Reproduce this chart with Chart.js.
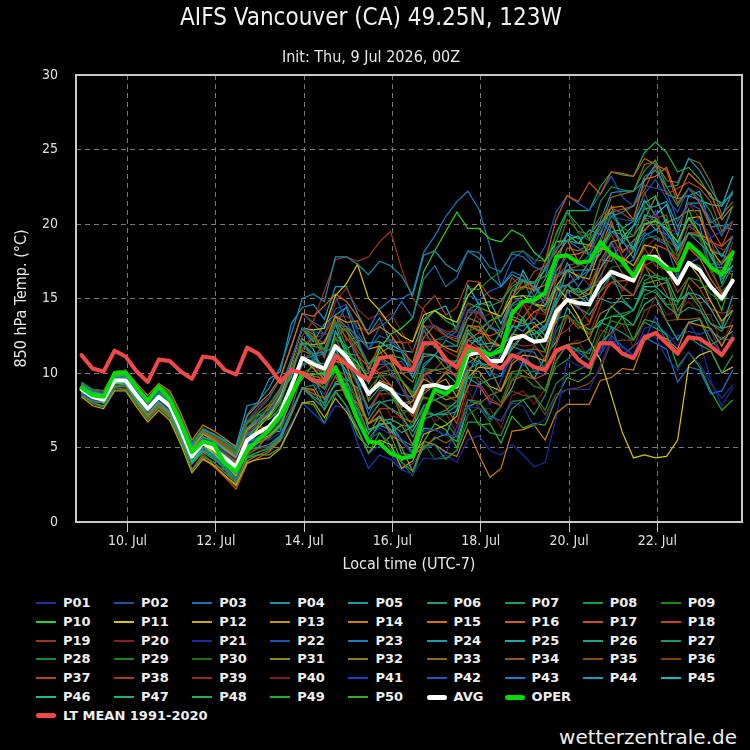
<!DOCTYPE html>
<html>
<head>
<meta charset="utf-8">
<script src="https://cdn.jsdelivr.net/npm/chart.js@4.4.1/dist/chart.umd.min.js"></script>
<style>
  html, body { margin: 0; padding: 0; background: #000; }
  #wrap { position: relative; width: 750px; height: 750px; background: #000; overflow: hidden; }
  #tempChart { position: absolute; left: 0; top: 0; }
  .leg { position: absolute; height: 16px; width: 78px; font: bold 13px "DejaVu Sans", sans-serif; color: #eee; white-space: nowrap; }
  .leg i { position: absolute; left: 0; width: 20px; }
  .leg span { position: absolute; left: 27px; top: 0; line-height: 16px; }
  #credit { position: absolute; right: 13px; top: 725px; font: 20px "DejaVu Sans", sans-serif; color: #eee; }
</style>
</head>
<body>
<div id="wrap">
  <canvas id="tempChart" width="750" height="580"></canvas>
  <div id="legend"></div>
  <div id="credit">wetterzentrale.de</div>
</div>
<script>
// forecast hours after init (9 Jul 2026 00Z)
const HOURS = [6,12,18,24,30,36,42,48,54,60,66,72,78,84,90,96,102,108,114,120,126,132,138,144,150,156,162,168,174,180,186,192,198,204,210,216,222,228,234,240,246,252,258,264,270,276,282,288,294,300,306,312,318,324,330,336,342,348,354,360];
// local midnight (UTC-7) for the labelled days
const TICK_HOURS = [31, 79, 127, 175, 223, 271, 319];
const TICK_LABELS = ["10. Jul", "12. Jul", "14. Jul", "16. Jul", "18. Jul", "20. Jul", "22. Jul"];

// 850 hPa temperature, ensemble members (°C)
const P01 = [9.1,8.5,8.3,9.5,9.4,8.4,7.4,8.2,7.5,6.0,4.4,5.4,5.1,4.7,4.2,5.7,6.0,6.1,6.8,8.3,10.0,9.3,8.6,10.4,8.8,7.3,5.6,6.3,5.9,5.6,4.4,6.1,6.2,5.8,5.8,7.7,7.7,7.0,6.8,8.0,7.8,6.4,6.9,8.4,8.9,8.9,8.9,10.5,12.3,11.3,11.2,12.6,12.4,11.0,10.2,11.4,10.6,9.3,8.3,9.2];
const P02 = [8.6,8.2,8.1,9.5,9.6,8.7,7.9,8.8,8.3,6.6,4.7,5.6,5.1,4.4,3.7,5.8,6.7,7.4,8.6,10.8,13.0,12.8,12.6,14.3,14.6,12.8,11.6,12.5,12.2,11.5,10.2,12.9,13.2,12.7,12.4,14.2,14.1,13.1,12.8,14.5,14.8,14.6,14.9,16.9,17.9,17.2,17.9,19.5,20.5,20.3,20.2,22.0,23.0,21.7,20.8,22.4,21.6,20.3,19.3,20.2];
const P03 = [9.3,8.8,8.6,9.8,9.8,8.8,7.9,8.6,8.0,6.2,4.3,5.0,4.4,3.7,2.9,4.8,5.5,6.0,7.0,9.0,11.0,11.1,11.3,13.3,13.1,12.5,11.6,13.1,13.6,14.8,13.7,16.3,17.2,15.8,16.4,18.2,18.1,17.1,16.8,18.0,17.8,17.1,16.9,18.4,18.9,18.4,17.9,20.1,19.5,18.8,18.2,19.4,19.0,18.6,16.4,17.4,17.7,17.3,17.3,19.2];
const P04 = [8.7,8.3,8.2,9.6,9.7,8.8,8.0,8.9,8.4,6.9,5.2,6.2,5.9,5.4,4.9,7.2,8.1,9.0,10.4,12.6,15.0,15.3,14.8,17.8,17.8,17.3,16.6,17.5,17.2,16.5,15.2,17.9,18.2,17.3,16.8,18.2,17.7,16.5,15.8,16.6,16.2,16.0,14.5,15.8,15.9,16.4,16.9,19.0,20.5,20.8,21.2,23.2,23.6,22.5,22.6,24.4,23.6,22.3,21.2,22.2];
const P05 = [9.0,8.4,8.2,9.4,9.3,8.2,7.3,8.0,7.3,5.7,3.9,4.8,4.4,3.8,3.2,4.8,5.0,5.2,5.8,7.4,9.0,8.4,8.0,9.3,9.2,7.2,5.6,6.5,6.2,5.5,5.1,6.9,7.2,7.2,7.4,9.7,9.2,9.6,9.8,11.8,12.5,12.6,13.2,14.7,16.9,16.9,16.9,18.5,19.5,19.3,18.4,20.6,20.4,19.5,18.2,19.4,18.7,18.0,16.3,17.2];
const P06 = [9.2,8.7,8.4,9.7,9.7,8.6,7.7,8.4,7.8,6.3,4.7,5.7,5.4,5.0,4.5,6.3,6.9,7.3,8.2,10.1,12.0,11.3,11.4,11.8,10.8,9.3,7.6,8.1,7.6,7.2,5.7,7.3,7.2,7.3,7.8,10.2,10.7,10.5,10.8,12.5,13.6,12.6,12.9,14.9,15.9,15.2,14.6,15.5,16.6,15.0,14.2,15.6,15.4,14.5,13.9,14.4,14.2,13.3,12.8,14.2];
const P07 = [8.5,8.0,7.7,9.0,8.9,7.9,6.9,7.7,7.0,5.4,3.5,4.4,4.0,3.3,2.7,4.3,4.7,4.9,5.6,7.3,9.0,8.3,7.6,8.8,7.8,6.3,4.6,6.0,4.9,4.0,3.4,5.1,5.2,4.2,4.8,6.7,6.7,6.0,5.8,7.6,8.2,7.2,8.5,10.8,11.9,11.5,11.3,13.4,13.1,12.7,12.2,13.6,13.4,12.5,11.2,12.4,11.9,11.5,10.0,11.2];
const P08 = [8.9,8.4,8.3,9.6,9.7,8.7,7.8,8.7,8.1,6.5,4.7,5.6,5.1,4.5,3.9,5.8,6.5,7.0,8.0,10.0,12.0,11.8,11.6,13.3,12.8,11.8,10.6,11.1,10.6,9.5,8.7,10.3,10.2,10.3,10.8,13.2,12.9,13.5,13.8,15.6,16.2,16.1,16.5,18.8,20.8,19.9,19.0,21.5,22.5,22.3,22.2,23.6,24.3,22.5,21.2,22.4,21.9,20.8,19.2,21.2];
const P09 = [9.4,8.9,8.8,10.1,10.2,9.2,8.3,9.2,8.6,7.0,5.3,6.2,5.8,5.3,4.7,6.7,7.3,7.9,9.0,10.9,13.0,12.3,11.6,13.5,11.8,10.3,8.6,9.1,8.6,7.5,7.4,8.3,8.2,7.8,7.8,9.7,9.7,9.0,8.0,10.0,9.8,9.1,8.9,10.4,10.9,11.7,10.9,12.5,13.5,13.3,13.2,15.2,15.6,14.6,14.6,16.4,16.2,15.3,14.8,16.2];
const P10 = [8.8,8.3,8.0,9.3,9.3,8.2,7.3,8.0,7.4,5.8,4.0,5.0,4.6,4.0,3.4,5.1,5.5,5.8,6.5,8.2,10.0,9.9,10.0,11.8,11.4,10.7,9.6,11.6,12.6,13.0,13.7,16.8,18.2,19.5,20.8,19.7,19.7,19.0,18.8,19.6,19.2,18.1,17.5,18.8,18.9,19.2,17.9,18.2,19.5,19.6,18.2,20.0,20.2,19.7,18.8,20.4,19.4,17.8,16.5,17.2];
const P11 = [9.2,8.7,8.5,9.8,9.8,8.9,8.0,8.8,8.2,6.4,4.5,5.2,4.6,3.9,3.1,5.3,6.3,7.1,8.4,10.7,13.0,12.9,13.0,15.2,16.0,17.3,15.0,14.2,13.2,12.5,12.1,13.9,14.2,13.7,13.4,15.2,16.0,14.1,13.8,15.1,15.2,14.6,14.5,15.8,15.0,13.8,12.2,10.9,8.5,6.0,4.3,4.5,4.3,4.4,5.5,10.5,11.2,11.5,10.0,10.4];
const P12 = [8.4,7.8,7.6,8.8,8.8,7.7,6.7,7.5,6.8,5.2,3.3,4.2,3.8,3.1,2.5,4.0,4.2,4.3,4.9,6.4,8.0,8.1,7.0,8.3,7.4,6.2,4.6,5.5,5.2,3.6,4.1,5.9,6.2,6.5,7.1,9.7,10.4,10.3,10.8,12.6,12.5,13.1,13.5,15.8,16.9,16.5,16.3,18.4,18.1,17.7,17.2,18.6,18.4,16.8,16.2,17.4,16.4,14.8,13.5,14.2];
const P13 = [9.1,8.6,8.5,9.8,9.9,8.9,8.0,8.9,8.3,6.7,4.9,5.9,5.5,4.9,4.3,6.2,6.7,7.2,8.2,10.0,12.0,11.9,12.0,13.8,13.4,13.5,11.6,11.8,10.9,9.5,8.4,9.6,9.2,9.6,8.4,10.2,10.1,9.1,8.8,10.6,11.2,11.1,10.8,13.8,14.9,15.0,15.3,17.0,18.1,17.4,18.2,20.0,20.2,19.7,18.8,20.4,20.5,18.3,17.3,18.2];
const P14 = [8.9,8.4,8.2,9.4,9.4,8.4,7.4,8.2,7.6,6.1,4.3,5.3,5.0,4.4,3.9,5.7,6.1,6.5,7.4,9.1,11.0,10.3,9.6,10.8,10.6,8.3,6.6,7.0,6.2,5.0,3.4,5.4,5.2,4.7,4.4,6.2,4.5,3.0,3.6,6.1,6.2,6.5,5.5,7.3,7.9,7.9,7.9,9.5,9.7,10.3,10.2,12.2,12.6,12.3,11.6,13.4,13.2,13.0,11.8,13.2];
const P15 = [9.3,8.9,8.8,10.1,10.2,9.3,8.5,9.3,8.8,7.3,5.5,6.5,6.1,5.6,5.0,7.1,7.9,8.6,9.7,11.8,14.0,13.8,14.5,15.3,14.8,13.8,12.6,13.1,12.6,11.5,10.7,13.2,12.2,11.7,11.4,13.2,13.1,12.1,11.8,13.6,13.3,14.1,14.5,16.8,17.9,18.0,18.3,20.0,21.1,21.2,20.3,23.0,23.2,23.8,21.8,23.4,22.7,22.0,20.3,21.2];
const P16 = [8.7,8.3,8.1,9.5,9.6,8.6,7.8,8.6,8.1,6.4,4.4,5.2,4.7,3.9,3.2,4.9,5.3,5.7,6.5,8.2,10.0,9.8,9.6,11.3,10.8,9.8,8.6,9.5,9.2,7.7,8.1,9.9,10.2,10.3,10.8,13.2,12.8,13.5,13.8,15.5,15.8,15.6,15.9,17.9,18.9,17.5,18.6,18.3,20.2,18.1,18.9,19.6,20.3,18.5,17.2,18.4,17.7,16.3,15.3,16.2];
const P17 = [9.0,8.4,8.1,9.3,9.3,8.2,7.2,7.9,7.2,5.5,3.5,4.3,3.7,3.0,2.2,3.9,4.3,4.7,5.5,7.2,9.0,8.6,8.3,9.8,8.4,8.0,6.6,7.6,7.6,7.0,6.7,8.8,9.2,10.1,9.8,12.2,12.7,12.5,12.8,15.1,16.2,15.8,17.5,20.3,21.9,21.5,22.8,22.0,23.5,23.4,23.2,24.4,24.0,23.6,21.4,22.4,21.4,19.8,18.5,19.2];
const P18 = [8.6,8.2,8.0,9.4,9.5,8.5,7.7,8.5,8.0,6.5,4.8,5.9,5.6,5.1,4.6,6.6,7.3,7.9,8.9,10.9,13.0,12.4,12.0,13.3,12.4,11.2,10.4,10.0,9.2,8.0,7.1,8.4,8.2,7.7,6.6,9.2,9.1,8.1,7.8,9.5,9.8,9.6,9.9,11.9,13.8,13.0,13.3,15.0,16.1,16.2,16.2,17.4,18.6,18.3,17.6,19.4,19.4,18.8,18.5,20.2];
const P19 = [9.1,8.6,8.3,9.6,9.5,8.5,7.5,8.3,7.6,6.1,4.4,5.4,5.1,4.6,4.1,6.1,6.8,7.4,8.4,10.4,12.5,13.5,15.5,17.6,17.8,17.5,17.8,18.8,19.5,17.0,15.0,14.2,13.0,12.5,12.3,14.1,14.0,13.1,12.8,14.0,14.7,13.1,12.9,14.4,14.9,14.5,13.4,15.5,16.1,15.7,15.2,17.2,17.6,17.3,16.6,18.4,17.7,17.1,15.3,16.2];
const P20 = [8.5,7.9,7.7,8.9,8.9,7.8,6.8,7.6,6.9,5.3,3.5,4.4,4.0,3.3,2.7,4.7,5.3,5.9,7.0,8.9,11.0,11.3,11.6,13.8,13.8,13.3,12.6,13.3,14.0,12.8,11.4,13.1,13.2,12.8,12.8,14.7,13.6,14.0,13.8,15.0,14.8,14.1,13.9,15.4,15.9,16.7,15.9,17.5,18.5,18.3,18.2,20.2,20.6,19.5,19.6,21.4,20.4,18.8,18.3,18.2];
const P21 = [9.4,8.9,8.7,10.0,10.0,8.9,8.0,8.8,8.2,6.6,4.7,5.6,5.2,4.5,3.9,5.3,5.5,5.5,6.0,7.5,9.0,8.3,7.6,8.8,7.8,6.3,4.6,5.1,4.6,3.5,3.2,4.3,4.2,4.5,4.0,5.5,5.8,4.8,4.5,5.2,4.5,3.7,4.0,7.0,10.9,10.5,10.3,11.5,12.1,11.7,11.2,13.0,13.2,12.7,11.8,13.4,12.2,9.5,7.8,9.0];
const P22 = [8.9,8.5,8.4,9.8,9.9,8.9,8.1,9.0,8.5,7.0,5.2,6.2,5.8,5.3,4.7,6.8,7.7,8.4,9.6,11.8,14.0,13.4,13.0,15.2,13.4,12.2,10.6,11.0,10.2,9.0,8.1,10.3,9.2,8.8,8.8,10.7,10.7,10.0,9.8,11.0,11.6,10.1,9.9,11.4,11.9,11.4,10.9,11.2,12.5,11.8,11.2,12.2,13.8,12.0,12.5,12.8,12.6,12.9,11.2,12.6];
const P23 = [8.7,8.2,8.0,9.3,9.3,8.2,7.3,8.1,7.5,5.9,4.1,5.0,4.6,3.9,3.3,5.2,5.7,6.2,7.2,9.0,11.0,10.8,12.2,13.2,14.5,13.0,12.9,14.3,14.9,15.0,15.4,18.1,19.2,20.5,21.5,22.2,21.0,18.5,15.8,16.8,16.5,15.6,15.2,16.6,16.9,15.8,16.9,17.0,18.8,17.2,17.6,19.2,19.6,19.3,18.6,20.4,19.9,17.0,17.1,16.8];
const P24 = [9.2,8.7,8.5,9.7,9.7,8.7,7.8,8.5,7.9,6.4,4.7,5.7,5.4,4.9,4.4,6.3,6.8,7.3,8.2,10.1,12.0,11.1,10.3,11.3,10.1,8.5,6.6,7.1,6.6,5.5,4.7,6.3,6.2,5.8,7.6,9.0,10.9,9.8,11.3,13.2,12.8,13.7,13.0,15.2,17.4,16.3,17.5,18.0,19.9,18.7,19.8,21.0,21.2,21.5,19.8,21.4,21.4,20.1,20.5,22.2];
const P25 = [8.8,8.3,8.0,9.3,9.2,8.2,7.2,8.0,7.3,5.8,4.0,5.0,4.6,4.1,3.5,5.7,6.5,7.3,8.6,10.7,13.0,12.1,13.3,13.9,14.4,12.2,12.0,12.1,11.6,11.4,9.7,11.3,11.2,10.8,10.8,12.7,11.9,12.0,11.8,13.1,13.2,13.4,12.5,14.3,14.9,14.4,13.9,15.0,14.7,14.8,14.2,15.8,15.8,15.1,14.8,15.4,15.2,14.3,13.0,15.2];
const P26 = [9.1,8.7,8.5,9.9,9.9,9.0,8.1,9.0,8.4,6.8,5.0,5.9,5.4,4.8,4.2,5.8,6.0,6.2,6.8,8.4,10.0,9.8,8.2,9.2,9.3,6.8,6.0,6.6,6.6,6.0,6.4,7.8,8.2,8.5,9.1,11.7,12.4,11.5,12.8,14.6,15.2,15.1,16.3,17.8,18.9,18.7,18.6,20.0,20.8,19.7,20.2,21.4,21.9,19.9,18.4,19.4,19.2,19.0,17.8,19.2];
const P27 = [8.6,8.1,8.0,9.3,9.3,8.3,7.5,8.3,7.7,6.0,4.0,4.8,4.3,3.5,2.8,4.4,4.7,5.0,5.7,7.3,9.0,9.2,7.8,9.4,9.6,7.4,6.9,8.0,8.2,8.0,8.1,10.4,11.2,12.2,11.8,14.2,14.7,14.5,14.8,15.8,16.3,14.6,14.2,15.6,15.9,15.4,15.7,16.0,16.5,15.8,15.2,16.6,16.4,16.2,14.2,15.4,14.4,12.8,12.3,12.2];
const P28 = [9.0,8.5,8.4,9.7,9.7,8.7,7.9,8.7,8.1,6.5,4.6,5.5,5.1,4.4,3.8,5.6,5.6,6.4,7.8,9.1,10.5,10.8,10.6,12.3,11.8,10.0,9.6,9.8,8.9,7.5,6.4,7.6,7.2,6.7,5.7,8.2,8.1,7.1,6.8,8.1,8.2,8.5,7.5,9.3,9.9,10.2,10.6,11.7,13.8,14.0,14.2,16.2,16.6,16.3,16.4,17.4,17.2,15.6,15.8,17.2];
const P29 = [9.3,8.7,8.4,9.6,9.5,8.4,7.4,8.1,7.4,5.8,3.9,4.8,4.4,3.7,3.1,4.8,5.3,5.6,6.4,8.2,10.0,10.4,9.0,11.0,11.5,9.3,8.9,9.8,9.9,9.5,8.6,11.6,12.2,12.5,13.1,15.7,15.6,16.3,16.8,18.1,18.2,17.6,17.5,19.3,20.8,19.4,18.9,20.0,20.5,19.8,19.2,21.2,20.0,18.9,17.4,18.4,18.2,17.3,17.5,18.2];
const P30 = [8.7,8.3,8.3,9.7,9.9,9.0,8.2,9.2,8.7,7.1,5.4,6.3,5.9,5.4,4.8,6.6,7.1,7.5,8.3,10.1,12.0,10.9,10.0,10.8,10.2,7.7,5.6,6.0,5.2,4.0,3.1,5.3,4.2,4.3,4.8,7.2,7.7,6.7,7.8,9.6,10.2,10.1,10.5,12.8,13.9,13.2,14.3,16.0,17.1,17.2,16.4,19.0,19.2,18.7,17.8,19.4,19.1,16.8,15.5,16.2];
const P31 = [9.1,8.5,8.2,9.4,9.3,8.1,7.1,7.8,7.1,5.4,3.5,4.3,3.8,3.1,2.4,4.1,4.5,4.8,5.5,7.2,9.0,8.9,7.5,8.8,8.9,7.8,5.9,7.1,6.0,6.5,5.2,7.3,8.7,8.2,8.4,10.7,11.1,10.6,10.8,11.6,12.5,12.9,12.2,13.4,15.6,15.2,15.6,17.5,18.8,19.0,19.2,20.3,21.8,20.1,20.4,20.9,20.9,18.2,17.9,17.6];
const P32 = [8.5,8.1,8.0,9.3,9.4,8.5,7.7,8.5,8.0,6.4,4.6,5.5,5.2,4.6,4.0,6.1,6.9,7.6,8.7,10.8,13.0,12.6,11.5,13.8,13.1,12.0,10.6,11.3,11.8,10.0,9.4,11.1,11.2,10.3,9.8,11.2,10.7,10.3,8.8,10.1,10.2,9.6,8.8,11.3,11.9,12.0,12.3,14.0,14.4,15.2,15.2,17.3,15.8,16.1,13.6,15.9,14.7,13.3,13.0,13.2];
const P33 = [9.2,8.7,8.6,9.9,9.9,8.9,8.1,8.9,8.3,6.6,4.7,5.5,4.9,4.2,3.5,5.3,6.4,6.3,7.2,8.6,11.5,11.2,10.0,12.4,10.7,10.5,8.2,10.0,10.2,10.0,10.1,12.4,13.2,12.5,12.1,13.7,13.4,12.3,11.8,14.3,13.7,14.8,14.0,16.2,18.4,18.2,18.6,19.7,21.8,22.0,22.2,24.0,24.2,22.9,22.8,24.4,24.1,22.8,20.6,21.5];
const P34 = [8.9,8.3,8.0,9.2,9.1,8.0,7.0,7.7,7.0,5.6,3.4,4.6,3.8,3.5,2.6,4.5,5.0,5.9,6.3,7.6,10.0,9.4,9.0,10.3,9.4,8.2,6.6,7.5,5.8,5.4,4.6,4.9,5.7,5.3,5.8,8.2,7.9,8.5,8.8,10.8,11.5,11.6,11.4,14.6,15.9,15.5,15.3,16.5,17.9,16.7,16.2,17.2,16.6,15.3,13.6,13.6,13.7,12.3,11.3,12.2];
const P35 = [8.6,8.2,8.1,9.5,9.6,8.6,7.8,8.7,8.2,6.7,4.9,5.9,5.6,5.0,4.5,6.7,7.5,8.3,9.6,11.7,14.0,13.3,12.6,13.8,12.8,11.3,9.6,10.3,10.7,9.0,7.6,10.1,10.2,11.1,10.2,12.5,14.3,13.0,14.4,16.4,15.6,16.8,17.2,18.1,20.3,19.5,19.3,20.5,21.1,20.7,20.2,22.1,20.4,20.6,17.8,19.9,19.3,16.8,16.9,16.6];
const P36 = [9.0,8.5,8.3,9.5,9.5,8.5,7.6,8.3,7.7,6.2,4.4,5.4,5.1,4.5,4.0,5.6,5.9,6.1,6.7,8.3,10.0,10.1,10.3,12.3,13.0,11.5,10.6,11.6,9.8,9.5,7.5,9.9,8.8,8.5,8.1,10.5,9.4,8.3,7.8,8.8,8.5,8.4,7.2,8.6,8.9,9.0,9.3,10.2,12.1,12.2,12.2,14.2,14.6,13.5,13.6,15.4,14.7,14.9,13.3,14.6];
const P37 = [9.3,8.8,8.7,10.0,10.1,9.1,8.2,9.1,8.5,6.9,5.2,6.1,5.7,5.2,4.6,6.8,6.6,7.8,8.1,10.5,11.6,12.4,11.0,13.9,12.2,12.4,10.1,12.0,12.2,12.0,12.1,14.4,15.2,13.9,14.4,16.2,16.1,15.1,14.8,16.0,16.6,15.1,14.9,16.4,16.9,17.2,17.6,18.7,20.8,21.0,21.2,22.3,23.9,22.0,22.4,22.8,22.4,21.5,19.5,20.2];
const P38 = [8.8,8.3,8.1,9.4,9.4,8.3,7.4,8.2,7.6,5.9,4.0,4.9,4.4,3.7,3.0,4.6,4.9,5.1,5.7,7.3,9.0,8.8,9.4,10.3,9.8,8.8,7.6,8.6,8.6,7.2,7.7,9.8,10.2,10.0,10.9,12.2,11.7,11.8,11.8,13.0,14.6,13.6,15.1,16.5,17.2,17.4,16.9,18.0,19.3,17.8,17.2,18.4,17.2,16.9,15.4,16.4,15.7,14.3,14.0,14.2];
const P39 = [9.1,8.6,8.4,9.7,9.7,8.7,7.8,8.6,8.0,6.4,4.7,5.6,5.2,4.7,4.1,6.0,6.6,7.1,8.1,10.0,12.0,12.3,12.6,14.8,15.7,14.3,13.6,14.0,13.2,12.0,10.3,12.4,12.2,11.5,11.1,12.7,13.2,11.3,10.8,12.0,11.8,11.9,10.9,12.4,12.9,13.8,12.6,14.5,16.8,15.5,16.9,18.4,19.0,18.9,18.4,20.4,19.0,18.9,16.7,18.8];
const P40 = [8.4,7.9,7.7,9.0,9.0,7.9,7.0,7.8,7.2,5.5,3.6,4.5,4.0,3.3,2.6,4.6,5.3,5.9,6.9,8.9,11.0,10.4,10.0,12.0,10.4,9.2,7.6,8.8,7.1,7.0,5.1,7.8,6.7,7.3,5.9,8.8,7.6,7.6,6.3,8.5,8.8,7.9,8.9,10.9,11.9,12.2,10.8,12.9,12.6,13.3,11.7,13.5,15.2,13.9,14.1,14.8,14.0,13.9,11.8,13.7];
const P41 = [9.2,8.7,8.5,9.8,9.9,8.9,8.0,8.9,8.3,6.7,4.8,5.7,5.2,4.6,3.9,5.2,5.1,5.0,5.4,6.6,8.0,7.3,6.6,7.8,7.6,5.3,3.6,4.5,4.2,3.5,3.9,4.9,5.2,4.6,6.4,7.6,9.3,7.9,9.5,11.3,10.5,11.8,11.0,13.1,15.5,14.3,15.9,16.2,18.7,17.5,18.8,19.4,20.9,19.0,19.5,19.8,20.4,19.1,19.5,21.2];
const P42 = [8.7,8.2,8.1,9.4,9.4,8.4,7.6,8.4,7.8,6.3,4.6,5.6,5.3,4.8,4.3,6.3,7.1,7.7,8.8,10.9,13.0,11.8,12.6,12.7,13.0,10.6,10.0,10.6,10.6,10.8,9.7,11.8,12.2,12.3,12.8,15.2,14.9,15.5,15.8,17.6,18.2,17.3,18.5,20.8,21.9,21.4,20.9,22.0,23.2,21.8,21.2,22.6,22.4,22.2,20.2,21.4,21.0,18.3,18.0,17.5];
const P43 = [9.1,8.3,8.3,9.3,9.4,8.1,7.4,7.9,7.4,5.7,3.9,4.8,4.5,3.9,3.3,5.5,5.4,6.6,6.9,9.4,10.6,10.9,9.5,11.6,10.0,9.6,7.2,8.8,8.9,8.5,8.4,10.6,11.2,10.7,9.6,12.2,12.1,11.1,10.8,11.8,11.5,11.4,10.2,11.6,11.9,10.8,11.6,11.4,13.1,11.2,11.8,12.4,12.0,11.6,9.4,10.4,10.2,8.6,8.8,10.2];
const P44 = [8.6,8.2,8.1,9.4,9.5,8.6,7.8,8.6,8.1,6.7,5.1,6.2,5.9,5.5,5.1,7.8,8.0,9.6,10.1,13.3,14.4,14.6,13.6,15.8,15.8,14.0,12.6,13.7,12.0,12.1,10.1,12.9,11.7,11.8,11.8,13.7,14.5,13.0,12.8,15.2,14.6,15.8,15.0,17.2,19.4,19.0,19.3,20.2,22.1,22.2,22.2,22.9,24.0,22.0,21.7,21.9,22.2,19.8,19.9,19.6];
const P45 = [9.0,8.6,8.2,9.6,9.3,8.5,7.3,8.3,7.4,5.9,4.0,4.9,4.4,3.8,3.1,5.1,5.0,6.0,6.1,8.6,9.6,10.6,9.8,12.8,11.6,12.1,10.3,11.8,11.9,11.5,11.4,13.6,14.2,14.5,12.8,15.9,14.6,14.8,13.3,15.0,16.9,15.5,17.1,18.2,19.3,18.7,19.6,19.3,21.2,19.1,19.9,21.6,20.6,21.3,19.2,21.9,21.6,21.3,21.2,23.2];
const P46 = [8.9,8.5,8.4,9.8,9.9,9.0,8.2,9.1,8.6,7.0,5.2,6.1,5.6,5.0,4.4,5.9,7.2,7.0,8.6,9.7,12.3,11.6,9.8,11.8,9.6,9.0,6.2,6.5,6.7,4.6,4.5,5.0,5.6,5.9,5.4,7.7,8.1,6.9,7.8,9.0,10.8,9.6,11.1,12.1,14.4,13.4,12.9,13.2,14.5,13.8,13.2,14.6,15.1,13.5,12.2,13.4,13.6,11.9,12.3,12.8];
const P47 = [8.5,8.0,7.8,9.1,9.1,8.1,7.1,7.9,7.2,5.7,3.9,4.9,4.5,4.0,3.4,5.6,6.5,7.3,8.5,10.7,13.0,12.8,11.1,13.3,11.2,10.8,8.1,9.0,9.0,7.0,6.1,7.4,7.2,7.5,8.1,9.9,11.4,11.3,11.8,12.5,13.8,12.1,13.1,13.6,15.4,15.7,14.8,17.6,17.5,18.9,17.7,20.5,19.6,20.3,18.2,21.0,19.2,18.4,16.0,17.7];
const P48 = [9.1,8.8,8.4,9.8,9.6,8.8,7.7,8.6,7.8,6.3,4.2,5.3,5.2,4.3,3.7,5.3,5.7,5.9,6.6,8.3,10.0,9.6,8.9,10.1,8.3,7.6,5.2,6.8,6.9,6.5,6.4,8.6,9.2,10.0,9.3,12.9,12.1,13.2,12.4,15.0,15.8,16.1,16.9,19.4,20.9,20.9,20.9,22.5,23.5,23.3,23.2,24.8,25.5,24.8,23.5,23.8,23.0,21.8,21.4,22.0];
const P49 = [8.8,8.4,8.2,9.6,9.7,8.7,7.9,8.7,8.2,6.7,5.0,6.0,5.7,5.2,4.7,6.3,6.7,6.9,7.6,9.3,11.0,11.3,10.1,12.8,11.3,11.2,9.3,11.0,11.2,11.0,10.3,13.4,14.2,13.5,13.1,14.7,14.4,14.1,12.8,13.8,13.5,12.6,11.5,13.6,13.9,13.2,12.6,13.5,13.8,13.8,12.2,13.4,13.0,12.6,10.4,11.4,10.4,8.8,7.5,8.2];
const P50 = [9.1,8.5,8.3,9.5,9.4,8.3,7.4,8.1,7.4,5.7,3.9,4.7,4.2,3.6,2.9,4.3,4.5,4.5,5.0,6.5,8.0,7.9,6.6,8.7,7.8,5.8,5.0,5.0,5.8,4.1,4.6,5.4,6.6,6.2,5.0,7.8,6.5,6.6,5.3,7.1,6.3,6.6,6.5,8.3,9.7,9.4,9.9,12.0,12.7,13.8,14.2,16.0,16.2,16.4,14.8,16.4,15.7,15.9,14.2,16.7];

const AVG = [8.9,8.4,8.2,9.5,9.5,8.5,7.6,8.4,7.8,6.2,4.4,5.3,4.9,4.3,3.7,5.5,6.0,6.4,7.3,9.1,11.0,10.6,10.3,11.8,11.1,10.0,8.6,9.3,8.9,8.0,7.4,9.1,9.2,9.0,9.1,11.2,11.4,10.8,10.8,12.3,12.5,12.1,12.2,14.1,14.9,14.7,14.6,16.0,16.8,16.5,16.2,17.8,17.8,17.1,16.0,17.4,16.9,15.8,15.0,16.2];
const OPER = [9.0,8.5,8.4,10.0,10.0,9.0,8.1,9.1,8.2,6.6,4.7,5.4,5.2,3.9,3.4,4.8,5.5,6.2,7.1,8.5,10.0,9.5,9.4,10.4,8.7,6.9,5.4,5.3,4.6,4.3,4.4,7.1,8.9,8.6,9.2,11.5,11.6,11.2,11.5,14.0,14.8,14.9,15.4,17.8,17.9,17.4,17.5,18.8,18.0,17.5,16.5,17.8,17.6,17.0,16.9,18.7,18.0,17.1,16.6,18.1];
const LT_MEAN = [11.2,10.3,10.1,11.5,11.1,10.1,9.4,10.9,10.8,10.1,9.6,11.1,11.0,10.2,9.9,11.7,11.3,10.4,9.4,10.2,10.0,9.5,9.4,11.1,10.6,10.0,9.5,11.0,11.1,10.3,10.2,12.0,12.0,10.9,10.4,11.8,11.5,10.6,10.3,11.2,10.9,10.4,10.2,11.5,11.8,10.9,10.4,12.0,12.0,11.3,11.0,12.4,12.7,12.0,11.3,12.4,12.3,11.8,11.2,12.3];

const MEMBERS = [P01,P02,P03,P04,P05,P06,P07,P08,P09,P10,P11,P12,P13,P14,P15,P16,P17,P18,P19,P20,
  P21,P22,P23,P24,P25,P26,P27,P28,P29,P30,P31,P32,P33,P34,P35,P36,P37,P38,P39,P40,
  P41,P42,P43,P44,P45,P46,P47,P48,P49,P50];

const MEMBER_COLORS = [
  "#23309a","#1f52a8","#1f70b0","#1a90b0","#1a9c9c","#1a9c7c","#1a9c5c","#1a9c3c","#1a8c1c","#2ad42a",
  "#d8c800","#c8aa00","#c89200","#d08200","#d87200","#d06212","#d05212","#c84418","#a83220","#882020",
  "#1a2aaa","#1a52b4","#1a7ac4","#1a9ab4","#1aaaaa","#1aaa8a","#1a9a6a","#1a8a3a","#1a8222","#1a7212",
  "#8c8c12","#8c7c12","#8c6c12","#8c5c12","#8c4c12","#7c4212","#b04a12","#a83a18","#982a18","#821818",
  "#1a3cd4","#1a5ac4","#1a7acc","#1a9acc","#1abac2","#1aba9a","#1ab282","#1ab252","#1ab232","#32b222"
];

const FONT = "'DejaVu Sans Condensed', 'DejaVu Sans', sans-serif";

const toPoints = (arr) => HOURS.map((h, i) => ({ x: h, y: arr[i] }));

const memberSets = MEMBERS.map((arr, i) => ({
  label: "P" + String(i + 1).padStart(2, "0"),
  data: toPoints(arr),
  borderColor: MEMBER_COLORS[i],
  borderWidth: 1.2,
  pointRadius: 0,
  tension: 0,
  order: 3,
}));

// box around the plot area
const frame = {
  id: "frame",
  afterDraw(chart) {
    const { ctx, chartArea: a } = chart;
    ctx.save();
    ctx.strokeStyle = "#c8c8c8";
    ctx.lineWidth = 2;
    ctx.strokeRect(a.left, a.top, a.right - a.left, a.bottom - a.top);
    ctx.restore();
  },
};

new Chart(document.getElementById("tempChart").getContext("2d"), {
  type: "line",
  data: {
    datasets: [
      ...memberSets,
      { label: "AVG", data: toPoints(AVG), borderColor: "#ffffff", borderWidth: 4, pointRadius: 0, borderJoinStyle: "round", borderCapStyle: "round", order: 2 },
      { label: "OPER", data: toPoints(OPER), borderColor: "#00dd00", borderWidth: 4, pointRadius: 0, borderJoinStyle: "round", borderCapStyle: "round", order: 1 },
      { label: "LT MEAN 1991-2020", data: toPoints(LT_MEAN), borderColor: "#f24848", borderWidth: 4, pointRadius: 0, borderJoinStyle: "round", borderCapStyle: "round", order: 0 },
    ],
  },
  options: {
    responsive: false,
    animation: false,
    events: [],
    layout: { padding: { left: 0, right: 8, top: 0, bottom: 0 } },
    plugins: {
      legend: { display: false },
      tooltip: { enabled: false },
      title: {
        display: true,
        text: "AIFS Vancouver (CA) 49.25N, 123W",
        color: "#f0f0f0",
        font: { family: FONT, size: 24, weight: "normal" },
        padding: { top: 4, bottom: 7 },
      },
      subtitle: {
        display: true,
        text: "Init: Thu, 9 Jul 2026, 00Z",
        color: "#e8e8e8",
        font: { family: FONT, size: 16 },
        padding: { top: 8, bottom: 8 },
      },
    },
    scales: {
      x: {
        type: "linear",
        min: 3,
        max: 365,
        afterFit(scale) { scale.height = 58; },
        afterBuildTicks(scale) { scale.ticks = TICK_HOURS.map((v) => ({ value: v })); },
        ticks: {
          autoSkip: false,
          maxRotation: 0,
          padding: 1,
          color: "#e0e0e0",
          font: { family: FONT, size: 14 },
          callback: (v) => TICK_LABELS[TICK_HOURS.indexOf(v)],
        },
        grid: {
          color: "#7a7a7a",
          lineWidth: 1,
          drawTicks: true,
          tickLength: 10,
          tickColor: "#c8c8c8",
          tickBorderDash: [],
        },
        border: { display: false, dash: [5, 4] },
        title: {
          display: true,
          text: "Local time (UTC-7)",
          color: "#e8e8e8",
          font: { family: FONT, size: 16 },
          padding: { top: 0, bottom: 6 },
        },
      },
      y: {
        min: 0,
        max: 30,
        afterFit(scale) { scale.width = 76; },
        ticks: {
          stepSize: 5,
          padding: 18,
          color: "#e0e0e0",
          font: { family: FONT, size: 14 },
        },
        grid: { color: "#7a7a7a", lineWidth: 1, drawTicks: false },
        border: { display: false, dash: [5, 4] },
        title: {
          display: true,
          text: "850 hPa Temp. (°C)",
          color: "#e8e8e8",
          font: { family: FONT, size: 16 },
          padding: { top: 12, bottom: 0 },
        },
      },
    },
  },
  plugins: [frame],
});

// legend below the chart, 9 columns
const legendBox = document.getElementById("legend");
const legendItems = memberSets.map((d) => ({ label: d.label, color: d.borderColor, thick: false }));
legendItems.push({ label: "AVG", color: "#ffffff", thick: true });
legendItems.push({ label: "OPER", color: "#00dd00", thick: true });
legendItems.forEach((it, idx) => addLegend(it, idx % 9, Math.floor(idx / 9)));
addLegend({ label: "LT MEAN 1991-2020", color: "#f24848", thick: true }, 0, 6);

function addLegend(it, col, row) {
  const el = document.createElement("div");
  el.className = "leg";
  el.style.left = (36 + col * 78.1) + "px";
  el.style.top = (595 + row * 18.8) + "px";
  if (it.label.length > 5) el.style.width = "200px";
  const sw = document.createElement("i");
  const h = it.thick ? 5 : 2;
  sw.style.height = h + "px";
  sw.style.top = (8 - h / 2) + "px";
  sw.style.background = it.color;
  if (it.thick) sw.style.borderRadius = "3px";
  const tx = document.createElement("span");
  tx.textContent = it.label;
  el.appendChild(sw);
  el.appendChild(tx);
  legendBox.appendChild(el);
}
</script>
</body>
</html>
